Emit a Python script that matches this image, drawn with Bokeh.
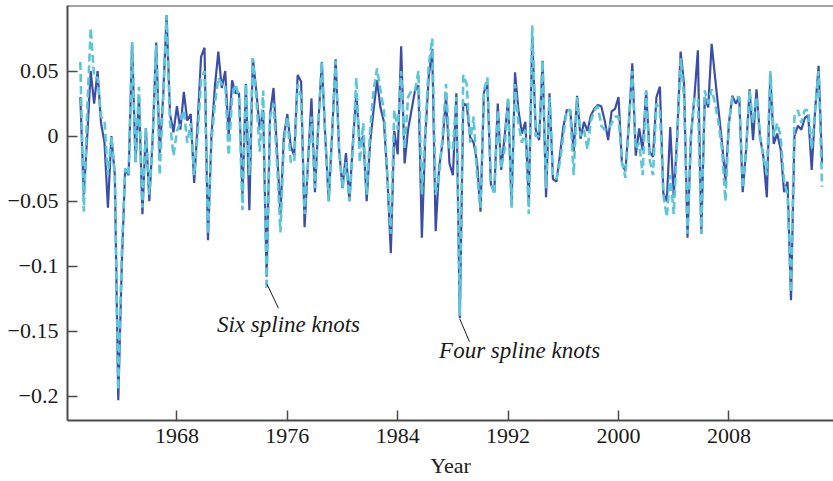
from bokeh.plotting import figure
from bokeh.models import (Range1d, FixedTicker, CustomJSTickFormatter, Span, Label)
from bokeh.embed import file_html
from bokeh.resources import INLINE

# Quarterly series starting 1961 Q1
start_year = 1961.0

four_knots = [
    0.030, -0.045, 0.000, 0.050, 0.025, 0.050, 0.010, -0.005, -0.055, 0.000,
    -0.030, -0.203, -0.100, -0.025, -0.030, 0.072, -0.020, 0.030, -0.060, 0.006,
    -0.050, 0.000, 0.072, -0.013, 0.030, 0.093, 0.017, 0.003, 0.023, 0.005,
    0.034, 0.012, 0.017, -0.036, 0.010, 0.061, 0.068, -0.080, 0.000, 0.038,
    0.065, 0.037, 0.050, 0.000, 0.043, 0.033, 0.033, -0.045, 0.040, -0.057,
    0.060, 0.035, 0.005, 0.020, -0.108, 0.017, 0.037, -0.010, -0.060, 0.000,
    0.017, -0.008, -0.015, 0.047, 0.042, -0.070, -0.020, 0.029, -0.043, 0.010,
    0.057, 0.000, -0.050, 0.003, 0.059, -0.010, -0.040, -0.013, -0.050, -0.005,
    0.033, -0.008, 0.000, -0.050, -0.005, 0.020, 0.043, 0.022, 0.011, -0.032,
    -0.090, 0.004, -0.014, 0.069, -0.021, 0.005, 0.020, 0.035, 0.039, -0.078,
    0.000, 0.046, 0.067, -0.073, -0.024, -0.005, 0.031, -0.021, -0.030, 0.033,
    -0.140, 0.025, 0.024, -0.001, -0.005, -0.020, -0.058, 0.034, 0.040, -0.037,
    -0.043, 0.025, -0.026, 0.000, 0.028, -0.053, 0.049, 0.020, 0.002, 0.011,
    -0.050, 0.076, 0.005, -0.003, 0.058, -0.047, 0.033, -0.033, -0.035, -0.015,
    0.007, 0.020, 0.020, -0.012, 0.031, -0.002, 0.011, 0.004, 0.016, 0.021,
    0.024, 0.023, 0.012, -0.003, 0.019, 0.021, 0.030, -0.021, -0.027, 0.010,
    0.056, -0.015, 0.006, -0.011, 0.035, -0.012, -0.016, 0.030, 0.038, -0.044,
    -0.050, 0.007, -0.047, 0.000, 0.065, 0.040, -0.078, 0.000, 0.030, 0.066,
    -0.075, 0.030, 0.022, 0.071, 0.045, 0.020, -0.005, -0.035, 0.010, 0.031,
    0.025, 0.030, -0.043, -0.010, 0.036, -0.003, 0.036, 0.000, -0.016, -0.047,
    0.047, -0.006, 0.002, -0.010, -0.043, -0.035, -0.126, 0.000, 0.008, 0.005,
    0.014, 0.016, -0.026, 0.020, 0.054, -0.021,
]

six_knots = [
    0.057, -0.058, 0.020, 0.083, 0.045, 0.045, 0.015, 0.012, -0.030, 0.000,
    -0.030, -0.195, -0.090, -0.025, -0.030, 0.072, -0.020, 0.038, -0.055, 0.006,
    -0.045, 0.000, 0.070, -0.030, 0.030, 0.093, 0.010, -0.015, 0.004, 0.010,
    0.020, -0.005, 0.010, -0.030, 0.000, 0.044, 0.050, -0.075, -0.005, 0.025,
    0.045, 0.040, 0.040, -0.015, 0.030, 0.040, 0.030, -0.057, 0.040, -0.030,
    0.060, 0.030, -0.012, 0.035, -0.118, 0.015, 0.025, -0.020, -0.074, -0.005,
    0.015, -0.020, -0.020, 0.040, 0.030, -0.060, -0.020, 0.015, -0.040, 0.010,
    0.057, 0.000, -0.050, 0.003, 0.058, -0.010, -0.040, -0.020, -0.050, -0.010,
    0.045, -0.020, 0.010, -0.045, 0.005, 0.035, 0.052, 0.035, 0.020, -0.030,
    -0.075, 0.020, 0.005, 0.050, -0.010, 0.030, 0.035, 0.035, 0.050, -0.045,
    0.005, 0.055, 0.075, -0.045, -0.030, 0.000, 0.040, -0.010, -0.010, 0.030,
    -0.138, 0.047, 0.040, -0.005, 0.015, -0.030, -0.055, 0.035, 0.045, -0.035,
    -0.045, 0.020, -0.025, -0.010, 0.030, -0.055, 0.040, 0.010, -0.005, 0.005,
    -0.060, 0.085, 0.000, 0.000, 0.058, -0.040, 0.030, -0.030, -0.033, -0.020,
    0.000, 0.020, 0.020, -0.030, 0.030, 0.000, 0.005, -0.010, 0.012, 0.020,
    0.023, 0.008, 0.005, 0.005, 0.010, 0.015, 0.015, -0.020, -0.032, 0.010,
    0.050, -0.010, -0.005, -0.030, 0.035, -0.018, -0.030, 0.025, 0.020, -0.045,
    -0.062, -0.030, -0.060, -0.005, 0.060, 0.030, -0.075, 0.000, 0.030, 0.028,
    -0.075, 0.035, 0.025, 0.036, 0.025, 0.010, -0.010, -0.050, 0.010, 0.030,
    0.030, 0.030, -0.040, -0.010, 0.035, 0.010, 0.030, 0.000, -0.015, -0.030,
    0.050, 0.000, 0.010, 0.000, -0.035, -0.045, -0.120, 0.015, 0.020, 0.010,
    0.020, 0.020, -0.010, 0.020, 0.050, -0.039,
]

x_ticks = [1968, 1976, 1984, 1992, 2000, 2008]
y_ticks = [-0.2, -0.15, -0.1, -0.05, 0, 0.05]
x_label = "Year"
label_four = "Four spline knots"
label_six = "Six spline knots"

years = [start_year + q / 4 for q in range(len(four_knots))]

FONT = "Liberation Serif"
AXIS_COLOR = "#4a4a4a"
TEXT_COLOR = "#1a1a1a"

p = figure(width=833, height=481, output_backend="svg", toolbar_location=None,
           x_range=Range1d(1960.07, 2015.58), y_range=Range1d(-0.2185, 0.1004),
           min_border_left=67, min_border_right=0, min_border_top=5,
           min_border_bottom=61)
p.outline_line_color = None
p.xgrid.visible = False
p.ygrid.visible = False
p.background_fill_color = "white"
p.border_fill_color = "white"

# series
p.line(years, four_knots, line_color="#3b4da8", line_width=2.2)
p.line(years, six_knots, line_color="#5cc6d9", line_width=2.6, line_dash="8 4")

# top frame line
p.add_layout(Span(location=0.1004, dimension="width", line_color=AXIS_COLOR,
                  line_width=2))

for ax in (p.xaxis[0], p.yaxis[0]):
    ax.axis_line_color = AXIS_COLOR
    ax.axis_line_width = 2
    ax.major_tick_line_color = AXIS_COLOR
    ax.major_tick_line_width = 1.5
    ax.major_tick_in = 10
    ax.major_tick_out = 0
    ax.minor_tick_line_color = None
    ax.major_label_text_font = FONT
    ax.major_label_text_font_size = "22px"
    ax.major_label_text_color = TEXT_COLOR

p.xaxis.ticker = FixedTicker(ticks=x_ticks)
p.xaxis.formatter = CustomJSTickFormatter(code="return tick.toFixed(0);")
p.xaxis.major_label_standoff = 8
p.xaxis.axis_label = x_label
p.xaxis.axis_label_text_font = FONT
p.xaxis.axis_label_text_font_style = "normal"
p.xaxis.axis_label_text_font_size = "22px"
p.xaxis.axis_label_text_color = TEXT_COLOR
p.xaxis.axis_label_standoff = 7

p.yaxis.ticker = FixedTicker(ticks=y_ticks)
p.yaxis.formatter = CustomJSTickFormatter(code="""
const v = Math.round(tick * 100) / 100;
if (v < 0) { return "\u2212" + String(-v); }
return String(v);
""")
p.yaxis.major_label_standoff = 9

# annotations with leader lines
p.segment(x0=[1974.53, 1988.5], y0=[-0.1138, -0.1405],
          x1=[1975.36, 1989.2], y1=[-0.1323, -0.158],
          line_color=TEXT_COLOR, line_width=1)
p.add_layout(Label(x=1970.9, y=-0.1446, text=label_six, text_font=FONT,
                   text_font_style="italic", text_font_size="23px",
                   text_baseline="middle", text_color=TEXT_COLOR))
p.add_layout(Label(x=1987.0, y=-0.1646, text=label_four, text_font=FONT,
                   text_font_style="italic", text_font_size="23px",
                   text_baseline="middle", text_color=TEXT_COLOR))

open("out.html", "w").write(file_html(p, INLINE))
